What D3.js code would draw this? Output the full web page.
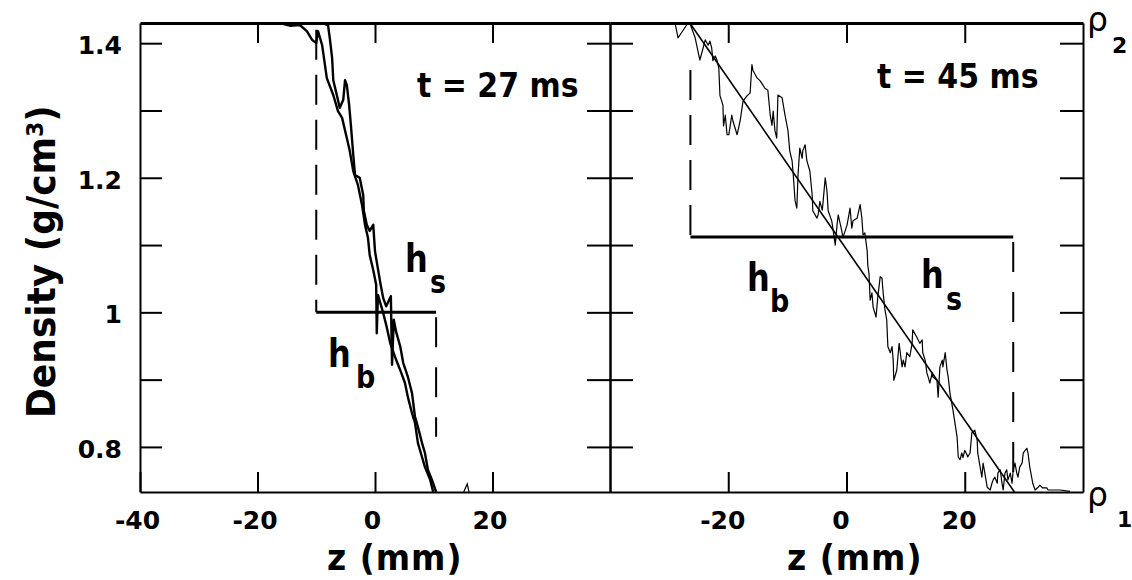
<!DOCTYPE html>
<html>
<head>
<meta charset="utf-8">
<script src="https://cdn.jsdelivr.net/npm/d3@7"></script>
<style>
  body { margin: 0; background: #fff; }
  svg text { font-family: "DejaVu Sans", sans-serif; fill: #000; }
</style>
</head>
<body>
<svg id="graf" width="1132" height="580"></svg>
<script>
// ---------- datos (z en mm, densidad en g/cm3) ----------
// t = 27 ms : dos trazas casi superpuestas
const perfil27a = [
  [-16.2,1.430],[-14.5,1.426],[-12.8,1.427],[-11.6,1.418],[-10.7,1.405],[-10.0,1.400],
  [-9.7,1.418],[-9.4,1.409],[-9.0,1.397],[-8.2,1.348],[-7.1,1.323],[-6.3,1.299],
  [-5.6,1.289],[-4.8,1.259],[-4.3,1.240],[-3.7,1.210],[-2.9,1.189],[-2.2,1.159],
  [-1.7,1.130],[-1.2,1.111],[-0.9,1.085],[-0.3,1.063],[0.2,1.041],[0.3,0.969],
  [0.5,1.026],[0.9,1.014],[1.4,0.999],[2.0,0.978],[2.6,0.954],[3.4,0.934],
  [4.3,0.914],[5.1,0.895],[5.6,0.874],[6.3,0.850],[6.8,0.836],[7.3,0.806],
  [8.0,0.785],[8.5,0.770],[9.4,0.751],[9.9,0.733]
]
const perfil27b = [
  [-9.0,1.430],[-8.0,1.427],[-7.7,1.408],[-7.3,1.378],[-7.1,1.345],[-6.5,1.323],
  [-6.0,1.304],[-5.4,1.316],[-5.1,1.345],[-4.8,1.338],[-4.4,1.308],[-4.1,1.278],
  [-3.7,1.234],[-3.4,1.204],[-2.6,1.200],[-2.0,1.174],[-1.9,1.151],[-1.4,1.130],
  [-0.9,1.121],[-0.3,1.130],[0.0,1.091],[0.3,1.075],[0.9,1.044],[1.4,1.021],
  [1.9,1.009],[2.7,1.024],[2.9,0.922],[3.2,0.989],[3.6,0.971],[4.3,0.949],
  [4.8,0.925],[5.6,0.904],[6.3,0.880],[6.8,0.845],[7.3,0.830],[8.0,0.806],
  [8.5,0.791],[9.0,0.766],[9.7,0.751],[10.4,0.733]
]
const bump27 = [[15.1,0.733],[15.7,0.745],[16.0,0.733]]

// t = 45 ms : traza ruidosa y ajuste lineal
const perfil45 = [
  [-29.0,1.430],[-28.5,1.408],[-27.8,1.417],[-26.8,1.430],[-26.5,1.430],[-25.6,1.408],
  [-24.8,1.375],[-24.4,1.388],[-23.9,1.405],[-23.4,1.397],[-23.1,1.403],[-22.8,1.393],
  [-22.6,1.374],[-22.2,1.381],[-21.9,1.375],[-21.6,1.363],[-21.4,1.322],[-20.9,1.308],
  [-20.8,1.277],[-20.5,1.293],[-20.2,1.264],[-19.9,1.264],[-19.4,1.293],[-19.2,1.284],
  [-18.5,1.264],[-18.0,1.284],[-17.5,1.314],[-16.8,1.322],[-16.3,1.326],[-16.0,1.368],
  [-15.8,1.359],[-15.1,1.348],[-14.6,1.344],[-13.8,1.333],[-13.3,1.330],[-12.9,1.293],
  [-12.6,1.278],[-12.4,1.299],[-12.1,1.270],[-11.8,1.259],[-11.6,1.323],[-10.9,1.319],
  [-10.4,1.293],[-9.9,1.270],[-9.6,1.240],[-9.2,1.225],[-9.0,1.204],[-8.7,1.166],
  [-8.4,1.155],[-8.2,1.204],[-7.9,1.244],[-7.5,1.229],[-7.4,1.240],[-7.0,1.249],
  [-6.7,1.225],[-6.2,1.210],[-5.8,1.174],[-5.7,1.151],[-5.0,1.140],[-4.8,1.145],
  [-4.5,1.165],[-4.1,1.152],[-4.0,1.160],[-3.6,1.200],[-3.3,1.180],[-3.1,1.151],
  [-2.5,1.136],[-2.3,1.125],[-1.9,1.100],[-1.6,1.130],[-1.4,1.145],[-0.8,1.121],
  [-0.6,1.111],[0.1,1.130],[0.6,1.155],[0.9,1.125],[1.1,1.136],[1.8,1.140],
  [2.3,1.160],[2.6,1.140],[2.8,1.115],[3.1,1.118],[3.5,1.091],[3.6,1.070],
  [3.8,1.058],[4.0,1.018],[4.3,1.029],[4.5,1.008],[5.0,0.993],[5.2,1.014],
  [5.3,1.023],[5.7,1.053],[6.0,1.051],[6.2,1.029],[6.5,1.004],[6.8,0.989],
  [7.0,0.949],[7.4,0.940],[7.7,0.949],[7.9,0.929],[8.0,0.899],[8.5,0.914],
  [8.9,0.954],[9.4,0.919],[9.6,0.929],[9.9,0.919],[10.2,0.940],[10.7,0.934],
  [11.1,0.954],[11.2,0.974],[11.9,0.963],[12.4,0.954],[12.8,0.959],[12.9,0.940],
  [13.3,0.929],[13.6,0.910],[13.8,0.904],[14.1,0.895],[14.5,0.910],[14.6,0.904],
  [15.3,0.899],[15.5,0.874],[15.8,0.919],[16.2,0.929],[16.3,0.919],[16.7,0.940],
  [17.0,0.914],[17.2,0.904],[17.5,0.880],[18.0,0.855],[18.7,0.815],[18.9,0.785],
  [19.2,0.781],[19.5,0.791],[19.7,0.784],[20.0,0.795],[20.4,0.788],[20.5,0.785],
  [20.9,0.791],[21.2,0.821],[21.7,0.825],[22.1,0.810],[22.2,0.791],[22.6,0.770],
  [22.9,0.755],[23.1,0.776],[23.4,0.761],[23.8,0.740],[24.3,0.736],[24.6,0.746],
  [24.8,0.751],[25.1,0.755],[25.5,0.746],[25.6,0.761],[26.0,0.766],[26.3,0.746],
  [26.5,0.736],[26.8,0.761],[27.1,0.766],[27.3,0.751],[27.7,0.761],[28.0,0.746],
  [28.2,0.766],[28.5,0.776],[28.8,0.761],[29.0,0.755],[29.3,0.770],[29.7,0.776],
  [29.9,0.791],[30.5,0.798],[30.7,0.791],[31.0,0.770],[31.4,0.751],[31.5,0.746],
  [31.9,0.736],[32.4,0.740],[32.7,0.743],[33.2,0.739],[33.9,0.739],[34.1,0.736],
  [36.1,0.736],[37.8,0.734]
]
const ajuste45 = [[-26.5,1.430],[28.4,0.733]]

// marcas h_b / h_s : [z izquierda, z derecha, nivel, tope guion sup., fin guion inf.]
const marcas27 = [-10, 10.4, 1.0, 1.42, 0.815]
const marcas45 = [-26.4, 28.2, 1.112, 1.36, 0.76]

// ejes
const dominioZ = [-40, 40]
const dominioDens = [0.733, 1.43]
const zEtiqIzq = [-40, -20, 0, 20]
const zEtiqDer = [-20, 0, 20]
const zMarcas = [-20, 0, 20]
const densMarcas = [0.8, 0.9, 1.0, 1.1, 1.2, 1.3, 1.4]

// ---------- dimensiones ----------
const margenSup = 23, margenInf = 492, margenIzq = 140, medio = 610, margenDer = 1083

const svg = d3.select("#graf")

const y = d3.scaleLinear().domain(dominioDens).range([margenInf, margenSup])
const xL = d3.scaleLinear().domain(dominioZ).range([margenIzq, medio])
const xR = d3.scaleLinear().domain(dominioZ).range([medio, margenDer])

// clips de cada panel
const defs = svg.append("defs")
defs.append("clipPath").attr("id", "clipL").append("rect")
  .attr("x", margenIzq).attr("y", margenSup)
  .attr("width", medio - margenIzq).attr("height", margenInf - margenSup)
defs.append("clipPath").attr("id", "clipR").append("rect")
  .attr("x", medio).attr("y", margenSup)
  .attr("width", margenDer - medio).attr("height", margenInf - margenSup)

// ---------- ejes ----------
const estiloEje = (g, size) => {
  g.attr("font-size", size).attr("font-family", null).attr("font-weight", "bold")
  g.selectAll("path").attr("stroke", "#000").attr("stroke-width", 2)
  g.selectAll("line").attr("stroke", "#000").attr("stroke-width", 2)
  g.selectAll("text").attr("fill", "#000")
}
const fmtDens = d => Math.round(d * 10) % 2 === 0 ? String(+d.toFixed(1)) : ""

// eje izquierdo con etiquetas
svg.append("g").attr("transform", `translate(${margenIzq},0)`)
  .call(d3.axisLeft(y).tickValues(densMarcas).tickSize(-22).tickSizeOuter(0)
        .tickPadding(18).tickFormat(fmtDens))
  .call(g => estiloEje(g, 25))
  .call(g => g.selectAll("text").attr("dy", "0.42em"))

// borde central (marcas hacia ambos lados) y borde derecho
svg.append("g").attr("transform", `translate(${medio},0)`)
  .call(d3.axisRight(y).tickValues(densMarcas).tickSize(-23).tickSizeOuter(0).tickFormat(""))
  .call(g => estiloEje(g, 10))
svg.append("g").attr("transform", `translate(${medio},0)`)
  .call(d3.axisLeft(y).tickValues(densMarcas).tickSize(-23).tickSizeOuter(0).tickFormat(""))
  .call(g => estiloEje(g, 10))
svg.append("g").attr("transform", `translate(${margenDer},0)`)
  .call(d3.axisRight(y).tickValues(densMarcas).tickSize(-23).tickSizeOuter(0).tickFormat(""))
  .call(g => estiloEje(g, 10))

// ejes inferiores
svg.append("g").attr("transform", `translate(0,${margenInf})`)
  .call(d3.axisBottom(xL).tickValues(zEtiqIzq).tickSize(-20).tickSizeOuter(0)
        .tickPadding(19).tickFormat(d => String(d)))
  .call(g => estiloEje(g, 25))
  .call(g => g.selectAll("text").attr("dx", -3))
svg.append("g").attr("transform", `translate(0,${margenInf})`)
  .call(d3.axisBottom(xR).tickValues(zEtiqDer).tickSize(-20).tickSizeOuter(0)
        .tickPadding(19).tickFormat(d => String(d)))
  .call(g => estiloEje(g, 25))
  .call(g => g.selectAll("text").attr("dx", -6))

// ejes superiores
svg.append("g").attr("transform", `translate(0,${margenSup})`)
  .call(d3.axisTop(xL).tickValues(zMarcas).tickSize(-20).tickSizeOuter(0).tickFormat(""))
  .call(g => estiloEje(g, 10))
  .call(g => g.select("path").attr("stroke-width", 3))
svg.append("g").attr("transform", `translate(0,${margenSup})`)
  .call(d3.axisTop(xR).tickValues(zMarcas).tickSize(-20).tickSizeOuter(0).tickFormat(""))
  .call(g => estiloEje(g, 10))
  .call(g => g.select("path").attr("stroke-width", 3))

// ---------- curvas ----------
const linea = x => d3.line().x(d => x(d[0])).y(d => y(d[1]))

const gL = svg.append("g").attr("clip-path", "url(#clipL)")
const gR = svg.append("g").attr("clip-path", "url(#clipR)")

const marcas = (g, x, m) => {
  const [zb, zs, nivel, tope, fin] = m
  g.append("line")
    .attr("x1", x(zb)).attr("x2", x(zb)).attr("y1", y(tope)).attr("y2", y(nivel))
    .attr("stroke", "#000").attr("stroke-width", 2).attr("stroke-dasharray", "30 15")
  g.append("line")
    .attr("x1", x(zs)).attr("x2", x(zs)).attr("y1", y(nivel)).attr("y2", y(fin))
    .attr("stroke", "#000").attr("stroke-width", 2).attr("stroke-dasharray", "0 5 30 15")
  g.append("line")
    .attr("x1", x(zb)).attr("x2", x(zs)).attr("y1", y(nivel)).attr("y2", y(nivel))
    .attr("stroke", "#000").attr("stroke-width", 3)
}

marcas(gL, xL, marcas27)
marcas(gR, xR, marcas45)

;[perfil27a, perfil27b].forEach(p => {
  gL.append("path").datum(p).attr("d", linea(xL))
    .attr("fill", "none").attr("stroke", "#000").attr("stroke-width", 2.4)
    .attr("stroke-linejoin", "round")
})
gL.append("path").datum(bump27).attr("d", linea(xL))
  .attr("fill", "none").attr("stroke", "#000").attr("stroke-width", 1.2)

gR.append("path").datum(perfil45).attr("d", linea(xR))
  .attr("fill", "none").attr("stroke", "#000").attr("stroke-width", 1.2)
  .attr("stroke-linejoin", "round")
gR.append("path").datum(ajuste45).attr("d", linea(xR))
  .attr("fill", "none").attr("stroke", "#000").attr("stroke-width", 1.6)

// ---------- textos ----------
const texto = (t, x, yy, size, sy = 1.15, peso = "bold") =>
  svg.append("text").attr("transform", `translate(${x},${yy}) scale(1,${sy})`)
    .attr("font-size", size).attr("font-weight", peso).text(t)

texto("t = 27 ms", 417, 97, 30, 1.12)
texto("t = 45 ms", 877, 88, 30, 1.12)

texto("z (mm)", 327, 570, 33, 1.1).attr("letter-spacing", 1)
texto("z (mm)", 787, 570, 33, 1.1).attr("letter-spacing", 1)

// subindices h_s, h_b
texto("h", 405, 272, 32, 1.2); texto("s", 430, 293, 27, 1.2)
texto("h", 328, 367, 32, 1.2); texto("b", 356, 388, 27, 1.2)
texto("h", 747, 291, 32, 1.2); texto("b", 770, 312, 27, 1.2)
texto("h", 921, 288, 32, 1.2); texto("s", 946, 310, 27, 1.2)

// rho
texto("ρ", 1087, 31, 33, 1.0, "normal"); texto("2", 1112, 53, 22, 1.0)
texto("ρ", 1087, 506, 33, 1.0, "normal"); texto("1", 1117, 527, 22, 1.0)

// titulo eje Y
const ty = svg.append("text")
  .attr("transform", "translate(55,418) rotate(-90) scale(1,1.08)")
  .attr("font-size", 36).attr("font-weight", "bold")
ty.append("tspan").text("Density (g/cm")
ty.append("tspan").attr("font-size", 22).attr("dy", -11).text("3")
ty.append("tspan").attr("dy", 11).text(")")
</script>
</body>
</html>
